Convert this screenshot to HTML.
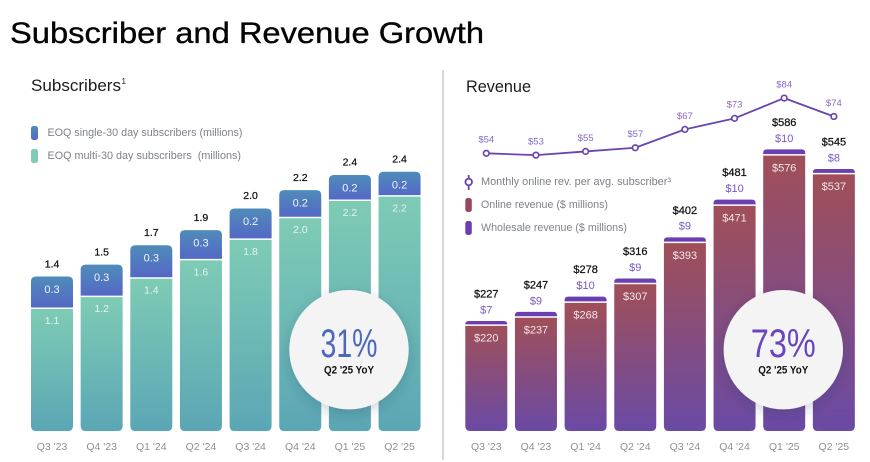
<!DOCTYPE html>
<html lang="en">
<head>
<meta charset="utf-8">
<title>Subscriber and Revenue Growth</title>
<style>
html,body{margin:0;padding:0;background:#fff;width:870px;height:462px;overflow:hidden}
svg{display:block;font-family:"Liberation Sans",sans-serif}
</style>
</head>
<body>
<svg id="chart" xmlns="http://www.w3.org/2000/svg" width="870" height="462" viewBox="0 0 870 462">
  <defs>
    <linearGradient id="gBlue" x1="0" y1="0" x2="0" y2="1"><stop offset="0" stop-color="#4f8cb9"/><stop offset="1" stop-color="#5468c6"/></linearGradient>
    <linearGradient id="gTeal" x1="0" y1="0" x2="0" y2="1"><stop offset="0" stop-color="#7ecbb5"/><stop offset="1" stop-color="#5ba6b5"/></linearGradient>
    <linearGradient id="gRev" x1="0" y1="0" x2="0" y2="1"><stop offset="0" stop-color="#a04f58"/><stop offset="1" stop-color="#6a4aa5"/></linearGradient>
    <filter id="soft" x="-30%" y="-30%" width="160%" height="160%"><feDropShadow dx="0" dy="4" stdDeviation="6" flood-color="#1d3a4a" flood-opacity="0.22"/></filter>
  </defs>
  <rect width="870" height="462" fill="#fff"/>
  <text x="10" y="43" font-size="30" fill="#050505" stroke="#050505" stroke-width=".35" textLength="474" lengthAdjust="spacingAndGlyphs">Subscriber and Revenue Growth</text>
  <line x1="443" y1="70" x2="443" y2="460" stroke="#bdbdbd" stroke-width="1.2"/>

  <text x="31" y="91" font-size="17" fill="#1c1c1f" textLength="90" lengthAdjust="spacingAndGlyphs">Subscribers</text>
  <text x="121.5" y="84" font-size="8" fill="#1c1c1f">1</text>
  <rect x="31" y="126" width="7" height="14" rx="2.5" fill="url(#gBlue)"/>
  <text x="47.5" y="136" font-size="11" fill="#7d8189" textLength="195" lengthAdjust="spacingAndGlyphs">EOQ single-30 day subscribers (millions)</text>
  <rect x="31" y="149" width="7" height="14" rx="2.5" fill="#7ecbb9"/>
  <text x="47.5" y="159" font-size="11" fill="#7d8189" textLength="193.5" lengthAdjust="spacingAndGlyphs" xml:space="preserve">EOQ multi-30 day subscribers  (millions)</text>

  <text x="466" y="92" font-size="17" fill="#1c1c1f" textLength="65" lengthAdjust="spacingAndGlyphs">Revenue</text>
  <g>
    <line x1="468.7" y1="175" x2="468.7" y2="190" stroke="#6a45b0" stroke-width="1.8"/>
    <circle cx="468.7" cy="182" r="3.3" fill="#fff" stroke="#6a45b0" stroke-width="1.8"/>
  </g>
  <text x="481" y="185" font-size="11" fill="#7d8189" textLength="190" lengthAdjust="spacingAndGlyphs">Monthly online rev. per avg. subscriber³</text>
  <rect x="465.3" y="198" width="6.5" height="14" rx="2.5" fill="#97485f"/>
  <text x="481" y="208" font-size="11" fill="#7d8189" textLength="127" lengthAdjust="spacingAndGlyphs">Online revenue ($ millions)</text>
  <rect x="465.3" y="221" width="6.5" height="14" rx="2.5" fill="#6b3fae"/>
  <text x="481" y="231" font-size="11" fill="#7d8189" textLength="146" lengthAdjust="spacingAndGlyphs">Wholesale revenue ($ millions)</text>

  <g id="subs"></g>
  <g id="rev"></g>

  <g>
    <circle cx="349" cy="349.7" r="59.7" fill="#f4f4f5" filter="url(#soft)"/>
    <text x="349" y="357" font-size="40" text-anchor="middle" fill="#4a69bd" textLength="57" lengthAdjust="spacingAndGlyphs">31%</text>
    <text x="349" y="373.5" font-size="11" font-weight="bold" text-anchor="middle" fill="#111" textLength="50" lengthAdjust="spacingAndGlyphs">Q2 '25 YoY</text>
  </g>
  <g>
    <circle cx="783.3" cy="349.7" r="59.7" fill="#f4f4f5" filter="url(#soft)"/>
    <text x="783.3" y="357" font-size="40" text-anchor="middle" fill="#6a45c0" textLength="65" lengthAdjust="spacingAndGlyphs">73%</text>
    <text x="783.3" y="373.5" font-size="11" font-weight="bold" text-anchor="middle" fill="#111" textLength="50" lengthAdjust="spacingAndGlyphs">Q2 '25 YoY</text>
  </g>
</svg>
<script>
const quarters = ["Q3 '23","Q4 '23","Q1 '24","Q2 '24","Q3 '24","Q4 '24","Q1 '25","Q2 '25"];
// Subscribers (millions): bar heights
const multiSubs = [1.13,1.24,1.41,1.58,1.77,1.97,2.13,2.17];
const singleSubs = [0.30,0.30,0.31,0.28,0.29,0.26,0.24,0.23];
// Subscribers: labels as printed
const multiLabels = ["1.1","1.2","1.4","1.6","1.8","2.0","2.2","2.2"];
const singleLabels = ["0.3","0.3","0.3","0.3","0.2","0.2","0.2","0.2"];
const subsTotalLabels = ["1.4","1.5","1.7","1.9","2.0","2.2","2.4","2.4"];
// Revenue ($ millions)
const onlineRevenue = [220,237,268,307,393,471,576,537];
const wholesaleRevenue = [7,9,10,9,9,10,10,8];
const totalRevenue = [227,247,278,316,402,481,586,545];
// Monthly online revenue per average subscriber ($)
const arpu = [54,53,55,57,67,73,84,74];

const NS = 'http://www.w3.org/2000/svg';
const BASE = 431, BAR_W = 42;
const subsX = i => 31 + i * 49.65;
const subsY = v => BASE - v * 108;
const revX = i => 465.3 + i * 49.65;
const revY = v => BASE - v * 0.478;
const arpuY = v => 153.3 - (v - 54) * 1.84;

function node(parent, tag, attrs, txt) {
  const el = document.createElementNS(NS, tag);
  for (const k in attrs) el.setAttribute(k, attrs[k]);
  if (txt !== undefined) el.textContent = txt;
  parent.appendChild(el);
  return el;
}
function barPath(x, top, w, bottom, rTop, rBottom) {
  return 'M' + x + ' ' + (top + rTop) +
    'Q' + x + ' ' + top + ' ' + (x + rTop) + ' ' + top +
    'H' + (x + w - rTop) +
    'Q' + (x + w) + ' ' + top + ' ' + (x + w) + ' ' + (top + rTop) +
    'V' + (bottom - rBottom) +
    'Q' + (x + w) + ' ' + bottom + ' ' + (x + w - rBottom) + ' ' + bottom +
    'H' + (x + rBottom) +
    'Q' + x + ' ' + bottom + ' ' + x + ' ' + (bottom - rBottom) + 'Z';
}
function label(parent, x, y, txt, size, fill, extra) {
  return node(parent, 'text', Object.assign({x: x, y: y, 'font-size': size, 'text-anchor': 'middle', fill: fill}, extra || {}), txt);
}
const HEAVY = {stroke: '#111', 'stroke-width': '.25'};

const subs = document.getElementById('subs');
quarters.forEach(function (q, i) {
  const x = subsX(i), cx = x + BAR_W / 2;
  const mTop = subsY(multiSubs[i]);
  const sTop = subsY(multiSubs[i] + singleSubs[i]);

  const multi = node(subs, 'path', {d: barPath(x, mTop, BAR_W, BASE, 0, 5), fill: 'url(#gTeal)'});
  
  

  const single = node(subs, 'path', {d: barPath(x, sTop, BAR_W, mTop - 1.5, 5, 0), fill: 'url(#gBlue)'});
  
  

  const t1 = label(subs, cx, mTop + 15, multiLabels[i], 10.5, '#e4f4ef');
  
  

  const t2 = label(subs, cx, sTop + 16.5, singleLabels[i], 11, '#f0f4fb');
  
  

  const t3 = label(subs, cx, sTop - 9.3, subsTotalLabels[i], 10.5, '#111', HEAVY);
  
  

  const t4 = label(subs, cx, 450, q, 10.5, '#8b8f97');
  
  
});

const rev = document.getElementById('rev');
quarters.forEach(function (q, i) {
  const x = revX(i), cx = x + BAR_W / 2;
  const oTop = revY(onlineRevenue[i]);
  const wTop = oTop - 1.5 - wholesaleRevenue[i] * 0.478;

  const online = node(rev, 'path', {d: barPath(x, oTop, BAR_W, BASE, 0, 5), fill: 'url(#gRev)'});
  
  

  const whole = node(rev, 'path', {d: barPath(x, wTop, BAR_W, oTop - 1.5, 3.5, 0), fill: '#6b3fb0'});
  
  

  const t1 = label(rev, cx, oTop + 15.8, '$' + onlineRevenue[i], 11, '#f3e6ea');
  
  

  const t2 = label(rev, cx, wTop - 7.6, '$' + wholesaleRevenue[i], 11, '#7b57c4');
  
  

  const t3 = label(rev, cx, wTop - 23.5, '$' + totalRevenue[i], 11, '#111', HEAVY);
  
  

  const t4 = label(rev, cx, 450, q, 10.5, '#8b8f97');
  
  
});

const linePts = arpu.map(function (v, i) { return (revX(i) + BAR_W / 2) + ',' + arpuY(v); }).join(' ');
const arpuLine = node(rev, 'polyline', {points: linePts, fill: 'none', stroke: '#6a45b0', 'stroke-width': '1.8', 'stroke-linejoin': 'round'});



arpu.forEach(function (v, i) {
  const cx = revX(i) + BAR_W / 2, cy = arpuY(v);
  const dot = node(rev, 'circle', {cx: cx, cy: cy, r: 2.8, fill: '#fff', stroke: '#6a45b0', 'stroke-width': '1.7'});
  
  

  const t = label(rev, cx, cy - 10.6, '$' + v, 9.5, '#8a68c9');
  
  
});
</script>
</body>
</html>
